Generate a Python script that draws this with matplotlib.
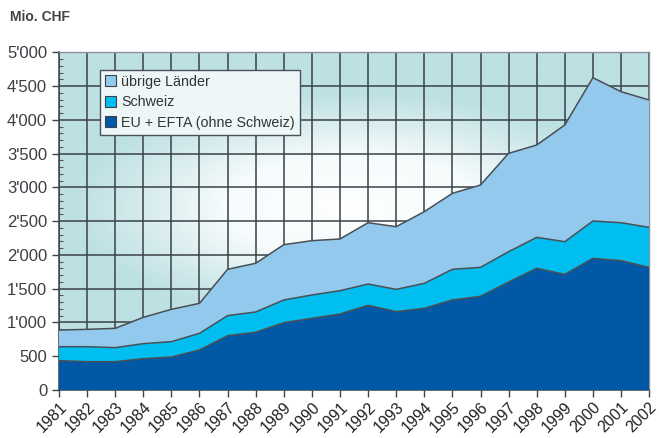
import matplotlib.pyplot as plt
import matplotlib.transforms as mtransforms
import numpy as np
from matplotlib.patches import Patch
from matplotlib.ticker import FuncFormatter, MultipleLocator
from matplotlib.colors import LinearSegmentedColormap

plt.rcParams['font.family'] = ['Liberation Sans', 'DejaVu Sans']

years = list(range(1981, 2003))
eu_efta = [434, 419, 419, 464, 488, 592, 804, 854, 997, 1061, 1125,
           1254, 1160, 1209, 1333, 1387, 1599, 1801, 1712, 1949, 1915, 1816]
schweiz = [207, 222, 208, 222, 228, 247, 297, 301, 336, 346, 345,
           315, 330, 370, 454, 429, 449, 459, 484, 553, 562, 592]
uebrige = [247, 257, 286, 390, 478, 444, 686, 721, 819, 804, 766,
           908, 928, 1061, 1125, 1219, 1456, 1367, 1728, 2122, 1940, 1886]
labels = ['EU + EFTA (ohne Schweiz)', 'Schweiz', 'übrige Länder']
colors = ['#0058a6', '#00bff0', '#92c9ec']

fig = plt.figure(figsize=(6.59, 4.38), dpi=100)
ax = fig.add_axes([0.0895, 0.1096, 0.8955, 0.771])

# background gradient: white in the middle, teal towards the edges
gx, gy = np.meshgrid(np.linspace(-1, 1, 300), np.linspace(-1, 1, 200))
r = np.clip(np.sqrt((gx * 1.05) ** 2 + (1.45 * (gy - 0.08)) ** 2), 0, 1)
cmap = LinearSegmentedColormap.from_list('bg', ['#ffffff', '#f6fbfb', '#bde0e3'])
ax.imshow(r ** 0.9, cmap=cmap, extent=(1981, 2002, 0, 5000), origin='lower',
          aspect='auto', zorder=0, vmin=0, vmax=1)

ax.stackplot(years, eu_efta, schweiz, uebrige, colors=colors, linewidth=0, zorder=3)
cum = np.cumsum([eu_efta, schweiz, uebrige], axis=0)
for row in cum:
    ax.plot(years, row, color='#4a4f55', linewidth=1.1, zorder=4)

ax.set_xlim(1981, 2002)
ax.set_ylim(0, 5000)
ax.set_xticks(years)
ax.set_xticklabels([str(y) for y in years], rotation=45, ha='right',
                   rotation_mode='anchor', fontsize=11.5, color='#222')
shift = mtransforms.ScaledTranslation(6 / 100, 0, fig.dpi_scale_trans)
for lab in ax.get_xticklabels():
    lab.set_transform(lab.get_transform() + shift)
ax.yaxis.set_major_locator(MultipleLocator(500))
ax.yaxis.set_minor_locator(MultipleLocator(100))
ax.yaxis.set_major_formatter(FuncFormatter(lambda v, p: f"{int(v):,}".replace(',', "'")))
ax.tick_params(axis='y', labelsize=12, labelcolor='#3a3f44', colors='#444', length=5, width=1)
ax.tick_params(axis='y', which='minor', direction='in', length=3, width=0.8, colors='#555')
ax.tick_params(axis='x', length=5, width=1, colors='#444', labelcolor='#222', pad=2)

ax.grid(True, which='major', color='#3a4148', linewidth=1.1, zorder=1)
ax.set_axisbelow(True)
for s in ['left', 'bottom']:
    ax.spines[s].set_color('#3a4148')
    ax.spines[s].set_linewidth(1.1)
for s in ['right', 'top']:
    ax.spines[s].set_color('#8a9299')
    ax.spines[s].set_linewidth(1.0)

handles = [Patch(facecolor=colors[i], edgecolor='#3a4148', linewidth=0.8, label=labels[i])
           for i in [2, 1, 0]]
leg = ax.legend(handles=handles, loc='upper left', bbox_to_anchor=(0.069, 0.948),
                borderaxespad=0, fontsize=10.3, frameon=True, fancybox=False,
                handlelength=0.8, handleheight=0.8, handletextpad=0.35,
                labelspacing=0.45, borderpad=0.35, labelcolor='#333')
leg.get_frame().set_facecolor('#eef7f8')
leg.get_frame().set_edgecolor('#4a5158')
leg.get_frame().set_linewidth(1.0)
leg.get_frame().set_alpha(1)
leg.set_zorder(6)

fig.text(0.015, 0.962, 'Mio. CHF', fontsize=10, fontweight='bold', color='#444',
         va='center', ha='left')

fig.savefig('out.png', dpi=100)
